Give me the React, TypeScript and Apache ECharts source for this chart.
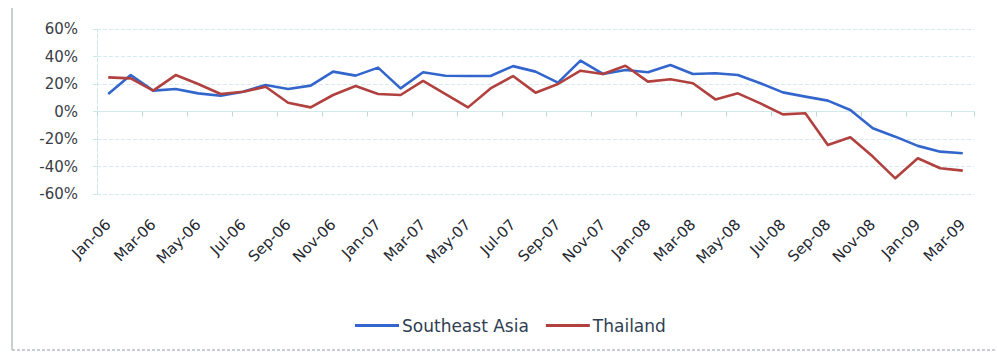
import React, { useEffect, useRef } from "react";
import * as echarts from "echarts";

const months = [
  "Jan-06","Feb-06","Mar-06","Apr-06","May-06","Jun-06","Jul-06","Aug-06","Sep-06","Oct-06","Nov-06","Dec-06",
  "Jan-07","Feb-07","Mar-07","Apr-07","May-07","Jun-07","Jul-07","Aug-07","Sep-07","Oct-07","Nov-07","Dec-07",
  "Jan-08","Feb-08","Mar-08","Apr-08","May-08","Jun-08","Jul-08","Aug-08","Sep-08","Oct-08","Nov-08","Dec-08",
  "Jan-09","Feb-09","Mar-09",
];

const southeastAsia = [
  12.7, 26.5, 15.2, 16.4, 13.2, 11.5, 14.4, 19.3, 16.4, 18.8, 29.0, 26.1,
  31.9, 16.8, 28.5, 26.0, 25.8, 25.8, 33.0, 29.0, 21.0, 37.0, 27.3, 30.2,
  28.5, 33.8, 27.3, 27.8, 26.5, 20.5, 13.9, 10.8, 7.9, 1.1, -12.2, -18.3,
  -25.0, -29.2, -30.4,
];

const thailand = [
  24.8, 24.1, 15.2, 26.5, 20.0, 12.7, 14.4, 18.0, 6.4, 3.0, 12.0, 18.5,
  12.7, 12.0, 22.2, 12.7, 3.0, 16.8, 25.8, 13.7, 20.0, 29.7, 27.3, 33.3,
  21.7, 23.4, 20.5, 8.8, 13.2, 5.9, -2.1, -1.3, -24.4, -18.8, -32.8, -48.6,
  -34.0, -41.3, -43.0,
];

const yMin = -60;
const yMax = 60;
const yStep = 20;

const BLUE = "#3366cc";
const RED = "#b0413e";
const FONT = "DejaVu Sans";

export default function App() {
  const ref = useRef<HTMLDivElement>(null);

  useEffect(() => {
    if (!ref.current) return;
    const chart = echarts.init(ref.current, undefined, { renderer: "svg" });
    chart.setOption({
      animation: false,
      backgroundColor: "#ffffff",
      grid: { left: 97, right: 23, top: 29, bottom: 160, containLabel: false },
      legend: {
        left: 350,
        top: 312,
        itemWidth: 44,
        itemHeight: 12,
        itemGap: 17,
        icon: "path://M0,4.5 L44,4.5 L44,7.5 L0,7.5 Z",
        textStyle: { fontFamily: FONT, fontSize: 17, color: "#2f3e52", padding: [0, 0, 0, -2] },
        data: [
          { name: "Southeast Asia", itemStyle: { color: BLUE } },
          { name: "Thailand", itemStyle: { color: RED } },
        ],
      },
      xAxis: [
        {
          type: "category",
          data: months,
          boundaryGap: true,
          axisLine: { show: false, onZero: false },
          axisTick: { show: false },
          axisLabel: {
            interval: 1,
            rotate: 45,
            margin: 28,
            fontFamily: FONT,
            fontSize: 15,
            color: "#23272f",
          },
          splitLine: { show: false },
        },
        {
          type: "category",
          data: months,
          boundaryGap: true,
          position: "bottom",
          axisLine: { show: true, onZero: true, lineStyle: { color: "#d3e9ee", width: 1 } },
          axisTick: { show: true, interval: 1, length: 5, lineStyle: { color: "#b9d9e2" } },
          axisLabel: { show: false },
          splitLine: { show: false },
        },
      ],
      yAxis: {
        type: "value",
        min: yMin,
        max: yMax,
        interval: yStep,
        axisLine: { show: true, lineStyle: { color: "#cfe5ea", type: "dashed" } },
        axisTick: { show: true, length: 4, lineStyle: { color: "#cfe5ea" } },
        axisLabel: {
          margin: 19,
          fontFamily: FONT,
          fontSize: 15,
          color: "#3a3d45",
          formatter: (v: number) => `${v}%`,
        },
        splitLine: { show: true, lineStyle: { color: "#d6ebef", type: "dashed", width: 1 } },
      },
      graphic: [
        {
          type: "line",
          shape: { x1: 12, y1: 8, x2: 12, y2: 350 },
          style: { stroke: "#b8bcc4", lineWidth: 1.5 },
        },
        {
          type: "line",
          shape: { x1: 12, y1: 350, x2: 997, y2: 350 },
          style: { stroke: "#b8bcc4", lineWidth: 1.5, lineDash: [3, 2] },
        },
      ],
      series: [
        {
          name: "Southeast Asia",
          type: "line",
          xAxisIndex: 0,
          data: southeastAsia,
          symbol: "none",
          lineStyle: { color: BLUE, width: 2.6, join: "round" },
          itemStyle: { color: BLUE },
        },
        {
          name: "Thailand",
          type: "line",
          xAxisIndex: 0,
          data: thailand,
          symbol: "none",
          lineStyle: { color: RED, width: 2.6, join: "round" },
          itemStyle: { color: RED },
        },
      ],
    });
    return () => chart.dispose();
  }, []);

  return (
    <div
      ref={ref}
      style={{ position: "absolute", left: 0, top: 0, width: 997, height: 354 }}
    />
  );
}
